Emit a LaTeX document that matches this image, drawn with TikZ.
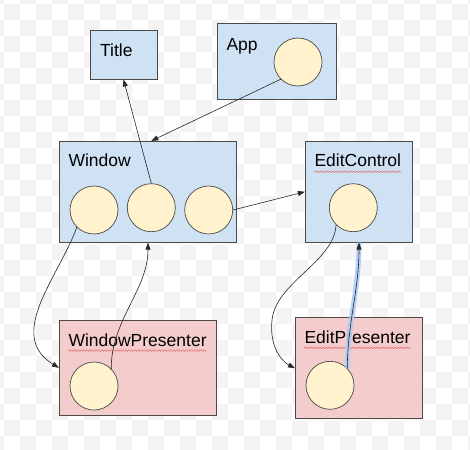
\documentclass[tikz,border=0pt]{standalone}
\usepackage{fontspec}
\setmainfont{Liberation Sans}
\usetikzlibrary{arrows.meta,decorations.pathmorphing}
\definecolor{boxblue}{HTML}{CFE2F3}
\definecolor{boxred}{HTML}{F4CCCC}
\definecolor{ballfill}{HTML}{FFF2CC}
\definecolor{edgegray}{HTML}{4A4A4A}
\definecolor{checker}{HTML}{F4F4F4}
\definecolor{selblue}{HTML}{B0CBF5}
\definecolor{spellred}{HTML}{E06666}
\begin{document}
\begin{tikzpicture}[x=1pt,y=-1pt,
  bluebox/.style={draw=edgegray, fill=boxblue, line width=0.8pt, inner sep=0pt},
  redbox/.style={draw=edgegray, fill=boxred, line width=0.8pt, inner sep=0pt},
  ball/.style={draw=edgegray, fill=ballfill, circle, minimum size=48pt, line width=0.7pt, inner sep=0pt},
  lbl/.style={anchor=base west, inner sep=0pt, font=\fontsize{17.5}{20}\selectfont},
  arr/.style={draw=black!85, -{Triangle[length=7pt,width=5pt]}, line width=0.6pt},
  squiggle/.style={spellred, line width=0.45pt, decorate, decoration={zigzag, amplitude=0.9pt, segment length=3pt}}]
\useasboundingbox (0,0) rectangle (470,449);
\fill[white] (0,0) rectangle (470,449);
\begin{scope}
\clip (0,0) rectangle (470,449);
\foreach \x in {-28,4,...,452}
  \foreach \y in {-28,4,...,436}
    \fill[checker] (\x,\y) rectangle ++(16,16) (\x+16,\y+16) rectangle ++(16,16);
\end{scope}
\node[bluebox, minimum width=67pt, minimum height=49pt] (title) at (123.5,54.5) {};
\node[bluebox, minimum width=119pt, minimum height=76pt] (app) at (276.5,61.8) {};
\node[bluebox, minimum width=177.4pt, minimum height=101pt] (win) at (148,191.8) {};
\node[bluebox, minimum width=107.4pt, minimum height=101pt] (ec) at (359,191.8) {};
\node[redbox, minimum width=157pt, minimum height=95.7pt] (wp) at (137.8,367.8) {};
\node[redbox, minimum width=127.4pt, minimum height=101pt] (ep) at (359,368.2) {};
\node[lbl] (titlelbl) at (100,56.7) {Title};
\node[lbl] (applbl) at (226.3,50.7) {App};
\node[lbl] (winlbl) at (68.3,166.7) {Window};
\node[lbl] (eclbl) at (314.3,166.7) {EditControl};
\node[lbl] (wplbl) at (68.3,346) {WindowPresenter};
\node[lbl] (eplbl) at (304.3,343.3) {EditPresenter};
\draw[squiggle] ([yshift=-5pt]eclbl.base west) -- ([yshift=-5pt]eclbl.base east);
\draw[squiggle] ([yshift=-4.5pt]wplbl.base west) -- ([yshift=-4.5pt]wplbl.base east);
\draw[squiggle] ([yshift=-4.5pt]eplbl.base west) -- ([yshift=-4.5pt]eplbl.base east);
\node[ball] (appc) at (298,62) {};
\node[ball] (wc1) at (94,210) {};
\node[ball] (wc2) at (151.3,207.7) {};
\node[ball] (wc3) at (208.7,210) {};
\node[ball] (ecc) at (353.3,207.7) {};
\node[ball] (wpc) at (94,386) {};
\node[ball] (epc) at (330,385.3) {};
\draw[arr] (appc.south west) -- (wc2 |- win.north);
\draw[arr] (wc2.north) -- (title.south);
\draw[arr] (wc3.east) -- (ec.west);
\draw[arr] (wc1.south west) .. controls (60,275) and (5,335) .. (wp.west);
\draw[arr] (wpc.north east) .. controls (111,320) and (148,290) .. (win.south);
\draw[arr] (ecc.south west) .. controls (334,262) and (276,282) .. (272,320) .. controls (269,348) and (283,362) .. (ep.west);
\draw[selblue, line width=5pt, opacity=0.9] (epc.north east) .. controls (348,320) and (359,290) .. (ec.south);
\draw[arr] (epc.north east) .. controls (348,320) and (359,290) .. (ec.south);
\end{tikzpicture}
\end{document}
